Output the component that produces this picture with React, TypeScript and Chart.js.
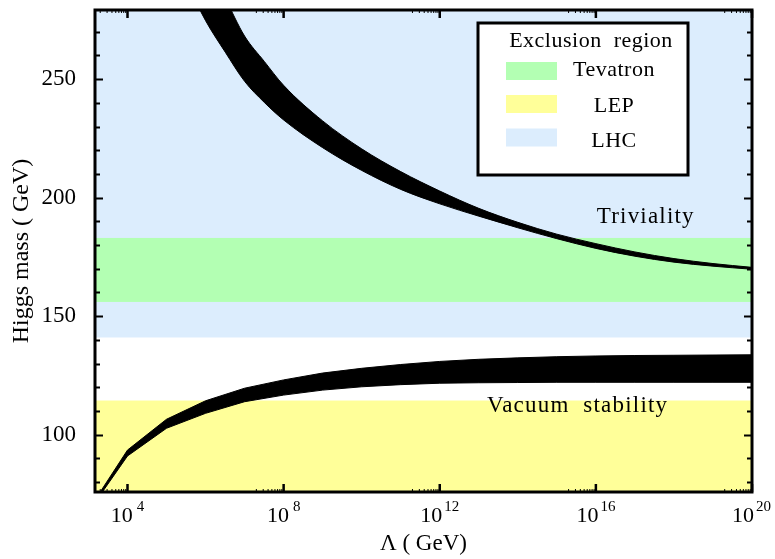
import React, { useEffect, useRef } from 'react';
import { Chart, registerables } from 'chart.js';

Chart.register(...registerables);

const W = 775;
const H = 559;
const FONT = '"Liberation Serif", "Times New Roman", Times, serif';

// Axis ticks
const xTickExponents = [4, 8, 12, 16, 20];
const xTickBase = '10';
const yTickValues = [100, 150, 200, 250];
const xMin = 1470;
const xMax = 1e20;
const yMin = 75.8;
const yMax = 279.2;

// Exclusion bands (GeV)
const bandNames = ['LHC', 'Tevatron', 'LEP'];
const bandLow = [141, 156, 60];
const bandHigh = [320, 183, 114.4];
const bandColors = ['#dcedfd', '#b3ffb3', '#ffff99'];

// Legend
const legendTitle = 'Exclusion  region';
const legendOrder = ['Tevatron', 'LEP', 'LHC'];

// Triviality band
const trivLambda = [3.2e5, 1e6, 3.2e6, 1e7, 3.2e7, 1e8, 1e9, 1e10, 1e11, 1e12, 1e13, 1e14, 1e15, 1e16, 1e17, 1e18, 1e19, 1e20];
const trivUpper = [316, 299, 284, 268.2, 257.5, 247.4, 232.4, 220.6, 211, 202.8, 195.5, 189.6, 184.6, 180.6, 177.1, 174.3, 172.2, 170.6];
const trivLower = [291, 274.7, 261.4, 249.1, 240.2, 232.8, 221.1, 211.5, 203.5, 197.4, 192.2, 187.3, 182.7, 178.6, 175.3, 172.8, 171.1, 169.8];

// Vacuum stability band
const vacLambda = [1e3, 1e4, 1e5, 1e6, 1e7, 1e8, 1e9, 1e10, 1e11, 1e12, 1e13, 1e14, 1e15, 1e16, 1e17, 1e18, 1e19, 1e20];
const vacUpper = [68.2, 93.5, 106.5, 114.3, 119.6, 123.1, 126.0, 128.0, 129.6, 130.9, 131.8, 132.4, 132.9, 133.2, 133.4, 133.5, 133.6, 133.7];
const vacLower = [67.4, 91.0, 102.7, 109.0, 113.9, 116.7, 118.8, 120.2, 121.1, 121.7, 121.9, 122.0, 122.1, 122.1, 122.1, 122.1, 122.1, 122.1];

// In-plot labels
const annotTexts = ['Triviality', 'Vacuum  stability'];
const annotLambda = [1.9e17, 3.4e15];
const annotMass = [189.3, 109.6];

const toPts = (xs: number[], ys: number[]) => xs.map((x, i) => ({ x, y: ys[i] }));

const bandsPlugin = {
  id: 'bands',
  beforeDatasetsDraw(chart: any) {
    const { ctx, chartArea: a, scales } = chart;
    const y = scales.y;
    ctx.save();
    ctx.beginPath();
    ctx.rect(a.left, a.top, a.right - a.left, a.bottom - a.top);
    ctx.clip();
    ctx.fillStyle = '#ffffff';
    ctx.fillRect(a.left, a.top, a.right - a.left, a.bottom - a.top);
    for (let i = 0; i < bandNames.length; i++) {
      const top = y.getPixelForValue(bandHigh[i]);
      const bot = y.getPixelForValue(bandLow[i]);
      ctx.fillStyle = bandColors[i];
      ctx.fillRect(a.left, top, a.right - a.left, bot - top);
    }
    ctx.restore();
  },
};

const overlayPlugin = {
  id: 'overlay',
  afterDatasetsDraw(chart: any) {
    const { ctx, chartArea: a, scales } = chart;
    const x = scales.x;
    const y = scales.y;
    ctx.save();
    ctx.strokeStyle = '#000';
    ctx.lineCap = 'butt';
    // y ticks, inward on both sides
    for (let v = 80; v <= 270; v += 10) {
      const major = yTickValues.includes(v);
      const len = major ? 8 : 5;
      const py = Math.round(y.getPixelForValue(v)) + 0.5;
      ctx.lineWidth = 2;
      ctx.beginPath();
      ctx.moveTo(a.left, py);
      ctx.lineTo(a.left + len, py);
      ctx.moveTo(a.right, py);
      ctx.lineTo(a.right - len, py);
      ctx.stroke();
    }
    // x ticks, inward at bottom and top
    for (const e of xTickExponents) {
      const px = x.getPixelForValue(Math.pow(10, e));
      ctx.lineWidth = 2.5;
      ctx.beginPath();
      ctx.moveTo(px, a.bottom);
      ctx.lineTo(px, a.bottom - 8);
      ctx.moveTo(px, a.top);
      ctx.lineTo(px, a.top + 8);
      ctx.stroke();
      ctx.lineWidth = 1;
      for (let k = 2; k <= 9; k++) {
        const pm = x.getPixelForValue(k * Math.pow(10, e - 1));
        ctx.beginPath();
        ctx.moveTo(pm, a.bottom);
        ctx.lineTo(pm, a.bottom - 3);
        ctx.moveTo(pm, a.top);
        ctx.lineTo(pm, a.top + 3);
        ctx.stroke();
      }
    }
    // frame
    ctx.lineWidth = 3;
    ctx.strokeRect(a.left, a.top, a.right - a.left, a.bottom - a.top);

    // x tick labels: 10 with raised exponent
    ctx.fillStyle = '#000';
    ctx.textBaseline = 'alphabetic';
    ctx.textAlign = 'left';
    for (const e of xTickExponents) {
      const px = x.getPixelForValue(Math.pow(10, e));
      const exp = String(e);
      ctx.font = `22px ${FONT}`;
      const wb = ctx.measureText(xTickBase).width;
      ctx.font = `15px ${FONT}`;
      const we = ctx.measureText(exp).width;
      const gap = e < 10 ? 4 : 2;
      const total = wb + gap + we;
      let left = px - total / 2;
      if (left + total > W - 4) left = W - 4 - total;
      ctx.font = `22px ${FONT}`;
      ctx.fillText(xTickBase, left, a.bottom + 30);
      ctx.font = `15px ${FONT}`;
      ctx.fillText(exp, left + wb + gap, a.bottom + 19);
    }

    // in-plot labels
    ctx.textAlign = 'center';
    ctx.font = `23px ${FONT}`;
    (ctx as any).letterSpacing = '1.2px';
    for (let i = 0; i < annotTexts.length; i++) {
      ctx.fillText(annotTexts[i], x.getPixelForValue(annotLambda[i]), y.getPixelForValue(annotMass[i]));
    }

    // legend box
    const lx = 478, ly = 23, lw = 210, lh = 152;
    ctx.fillStyle = '#fff';
    ctx.fillRect(lx, ly, lw, lh);
    ctx.lineWidth = 3;
    ctx.strokeStyle = '#000';
    ctx.strokeRect(lx, ly, lw, lh);
    ctx.fillStyle = '#000';
    (ctx as any).letterSpacing = '0.5px';
    ctx.font = `22px ${FONT}`;
    ctx.fillText(legendTitle, lx + 113, 46.5);
    const swTop = [62, 95, 128.5];
    const txBase = [75.5, 112, 146.5];
    legendOrder.forEach((name, i) => {
      const bi = bandNames.indexOf(name);
      ctx.fillStyle = bandColors[bi];
      ctx.fillRect(506, swTop[i], 51, 18);
      ctx.fillStyle = '#000';
      ctx.fillText(name, 614, txBase[i]);
    });
    (ctx as any).letterSpacing = '0px';
    ctx.restore();
  },
};

export default function App() {
  const ref = useRef<HTMLCanvasElement>(null);
  useEffect(() => {
    const lineDs = (label: string, xs: number[], ys: number[], fill: any, mono: boolean) => ({
      label,
      data: toPts(xs, ys),
      borderColor: '#000',
      backgroundColor: '#000',
      borderWidth: 1,
      pointRadius: 0,
      fill,
      cubicInterpolationMode: mono ? 'monotone' : 'default',
      tension: 0,
    });
    const chart = new Chart(ref.current as HTMLCanvasElement, {
      type: 'line',
      data: {
        datasets: [
          lineDs('Triviality lower', trivLambda, trivLower, false, true),
          lineDs('Triviality upper', trivLambda, trivUpper, '-1', true),
          lineDs('Vacuum stability lower', vacLambda, vacLower, false, false),
          lineDs('Vacuum stability upper', vacLambda, vacUpper, '-1', false),
        ] as any,
      },
      options: {
        responsive: false,
        animation: false,
        devicePixelRatio: 1,
        layout: { padding: { left: 0, right: 23, top: 10, bottom: 0 } },
        plugins: { legend: { display: false }, tooltip: { enabled: false } },
        scales: {
          x: {
            type: 'logarithmic',
            position: 'bottom',
            min: xMin,
            max: xMax,
            bounds: 'data',
            grid: { display: false },
            border: { display: false },
            afterBuildTicks: (s: any) => {
              s.ticks = xTickExponents.map((e) => ({ value: Math.pow(10, e) }));
            },
            afterFit: (s: any) => {
              s.height = 67;
              s.paddingLeft = 0;
              s.paddingRight = 0;
            },
            ticks: { display: false },
            title: {
              display: true,
              text: '\u039b ( GeV)',
              color: '#000',
              font: { family: FONT, size: 23 },
              padding: { top: 0, bottom: 1 },
            },
          },
          y: {
            type: 'linear',
            min: yMin,
            max: yMax,
            grid: { display: false },
            border: { display: false },
            afterBuildTicks: (s: any) => {
              s.ticks = yTickValues.map((v) => ({ value: v }));
            },
            afterFit: (s: any) => {
              s.width = 95;
              s.paddingTop = 0;
              s.paddingBottom = 0;
            },
            ticks: {
              padding: 11,
              color: '#000',
              font: { family: FONT, size: 23 },
              callback: (v: any) => String(v),
            },
            title: {
              display: true,
              text: 'Higgs mass ( GeV)',
              color: '#000',
              font: { family: FONT, size: 24 },
              padding: { top: 7, bottom: 0 },
            },
          },
        },
      } as any,
      plugins: [bandsPlugin, overlayPlugin],
    });
    return () => chart.destroy();
  }, []);
  return (
    <div style={{ position: 'absolute', left: 0, top: 0, width: W, height: H, background: '#fff' }}>
      <canvas ref={ref} width={W} height={H} style={{ display: 'block', width: W, height: H }} />
    </div>
  );
}
